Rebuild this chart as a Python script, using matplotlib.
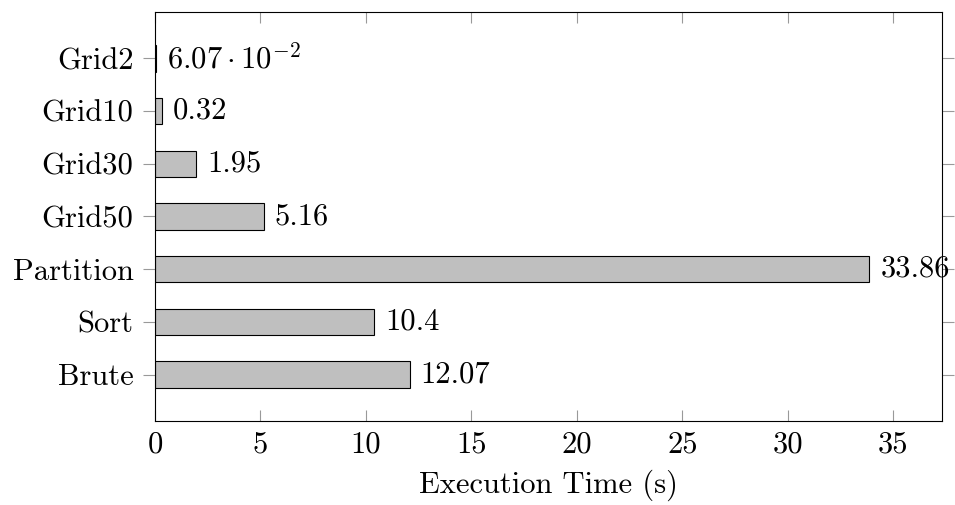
import matplotlib
matplotlib.use("Agg")
import matplotlib.pyplot as plt

categories = ["Brute", "Sort", "Partition", "Grid50", "Grid30", "Grid10", "Grid2"]
times = [12.07, 10.4, 33.86, 5.16, 1.95, 0.32, 0.0607]
value_labels = ["12.07", "10.4", "33.86", "5.16", "1.95", "0.32", r"$6.07\cdot10^{-2}$"]
xticks = [0, 5, 10, 15, 20, 25, 30, 35]

plt.rcParams["font.family"] = ["cmr10", "DejaVu Serif"]
plt.rcParams["mathtext.fontset"] = "cm"
plt.rcParams["axes.formatter.use_mathtext"] = True
FS = 22

fig = plt.figure(figsize=(9.55, 5.05), dpi=100)
ax = fig.add_axes([155/955, 1 - 421/505, (942-155)/955, (421-12)/505])

ypos = list(range(len(categories)))
ax.barh(ypos, times, height=0.5, color="#bfbfbf", edgecolor="black", linewidth=0.8)

for y, v, lab in zip(ypos, times, value_labels):
    ax.annotate(lab, xy=(v, y), xytext=(8, 0), textcoords="offset points",
                ha="left", va="center", fontsize=FS)

ax.set_xlim(0, 37.3)
ax.set_ylim(-0.88, 6.88)
ax.set_yticks(ypos)
ax.set_yticklabels(categories, fontsize=FS)
ax.set_xticks(xticks)
ax.set_xticklabels([str(t) for t in xticks], fontsize=FS)

ax.tick_params(axis="x", direction="in", length=8, width=0.8, color="0.6",
               top=True, bottom=True, pad=7)
ax.tick_params(axis="y", direction="out", length=8.5, width=0.8, color="0.6",
               left=True, right=True, pad=7)
for s in ax.spines.values():
    s.set_linewidth(0.8)

ax.set_xlabel("Execution Time (s)", fontsize=FS, labelpad=8)

fig.savefig("out.png", dpi=100)
